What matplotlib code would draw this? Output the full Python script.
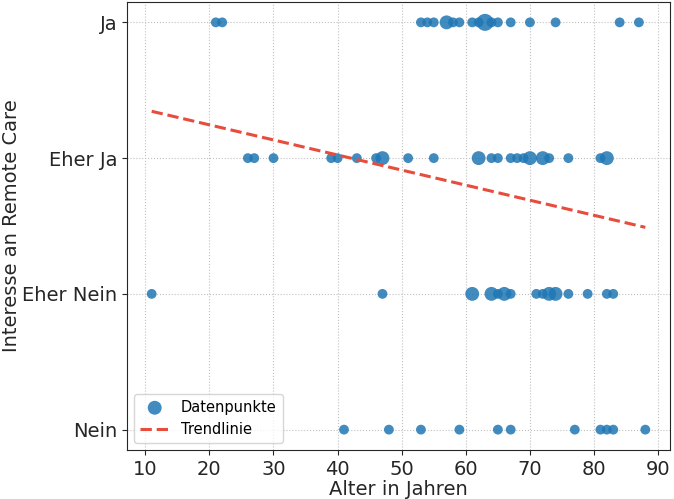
import numpy as np
import matplotlib
matplotlib.use("Agg")
import matplotlib.pyplot as plt

# Antwortkategorien (0 = Nein ... 3 = Ja)
kategorien = ["Nein", "Eher Nein", "Eher Ja", "Ja"]

# Alter pro Antwort (Mehrfachnennungen = mehrere Personen gleichen Alters)
alter_ja = [21, 22, 53, 54, 55, 57, 57, 58, 59, 61, 62, 63, 63, 63, 64, 65,
            67, 70, 74, 84, 87]
alter_eher_ja = [26, 27, 30, 39, 40, 43, 46, 47, 47, 51, 55, 62, 62, 64, 65,
                 67, 68, 69, 70, 70, 72, 72, 73, 76, 81, 82, 82]
alter_eher_nein = [11, 47, 61, 61, 64, 64, 65, 66, 66, 67, 71, 72, 73, 73,
                   74, 74, 76, 79, 82, 83]
alter_nein = [41, 48, 53, 59, 65, 67, 77, 81, 82, 83, 88]

# Trendlinie: Alter -> Wert
trend_alter = [11, 88]
trend_wert = [2.345, 1.49]

alle = [alter_nein, alter_eher_nein, alter_eher_ja, alter_ja]

# Punkte zusammenfassen -> Groesse nach Anzahl
xs, ys, ns = [], [], []
for i, werte in enumerate(alle):
    u, c = np.unique(werte, return_counts=True)
    xs += list(u)
    ys += [i] * len(u)
    ns += list(c)
xs = np.array(xs)
ys = np.array(ys)
ns = np.array(ns)

fig, ax = plt.subplots(figsize=(6.74, 4.99), dpi=100)
fig.subplots_adjust(left=127/674, right=670/674, top=1-2/499, bottom=1-450/499)

ax.scatter(xs, ys, s=50*ns, color="#1f77b4", alpha=0.85, edgecolor="none",
           label="Datenpunkte", zorder=3)

ax.plot(trend_alter, trend_wert, color="#e74c3c", linestyle="--", linewidth=2.2,
        label="Trendlinie", zorder=4)

ax.set_yticks(range(4))
ax.set_yticklabels(kategorien)
ax.tick_params(labelsize=14, colors="#262626")
ax.set_xlabel("Alter in Jahren", fontsize=14, color="#262626", labelpad=1)
ax.set_ylabel("Interesse an Remote Care", fontsize=14, color="#262626", labelpad=1)
ax.grid(True, linestyle=":", color="#c0c0c0", linewidth=0.8)
for sp in ax.spines.values():
    sp.set_color("#262626")
ax.legend(loc="lower left", fontsize=10.5)

fig.savefig("out.png", dpi=100)
